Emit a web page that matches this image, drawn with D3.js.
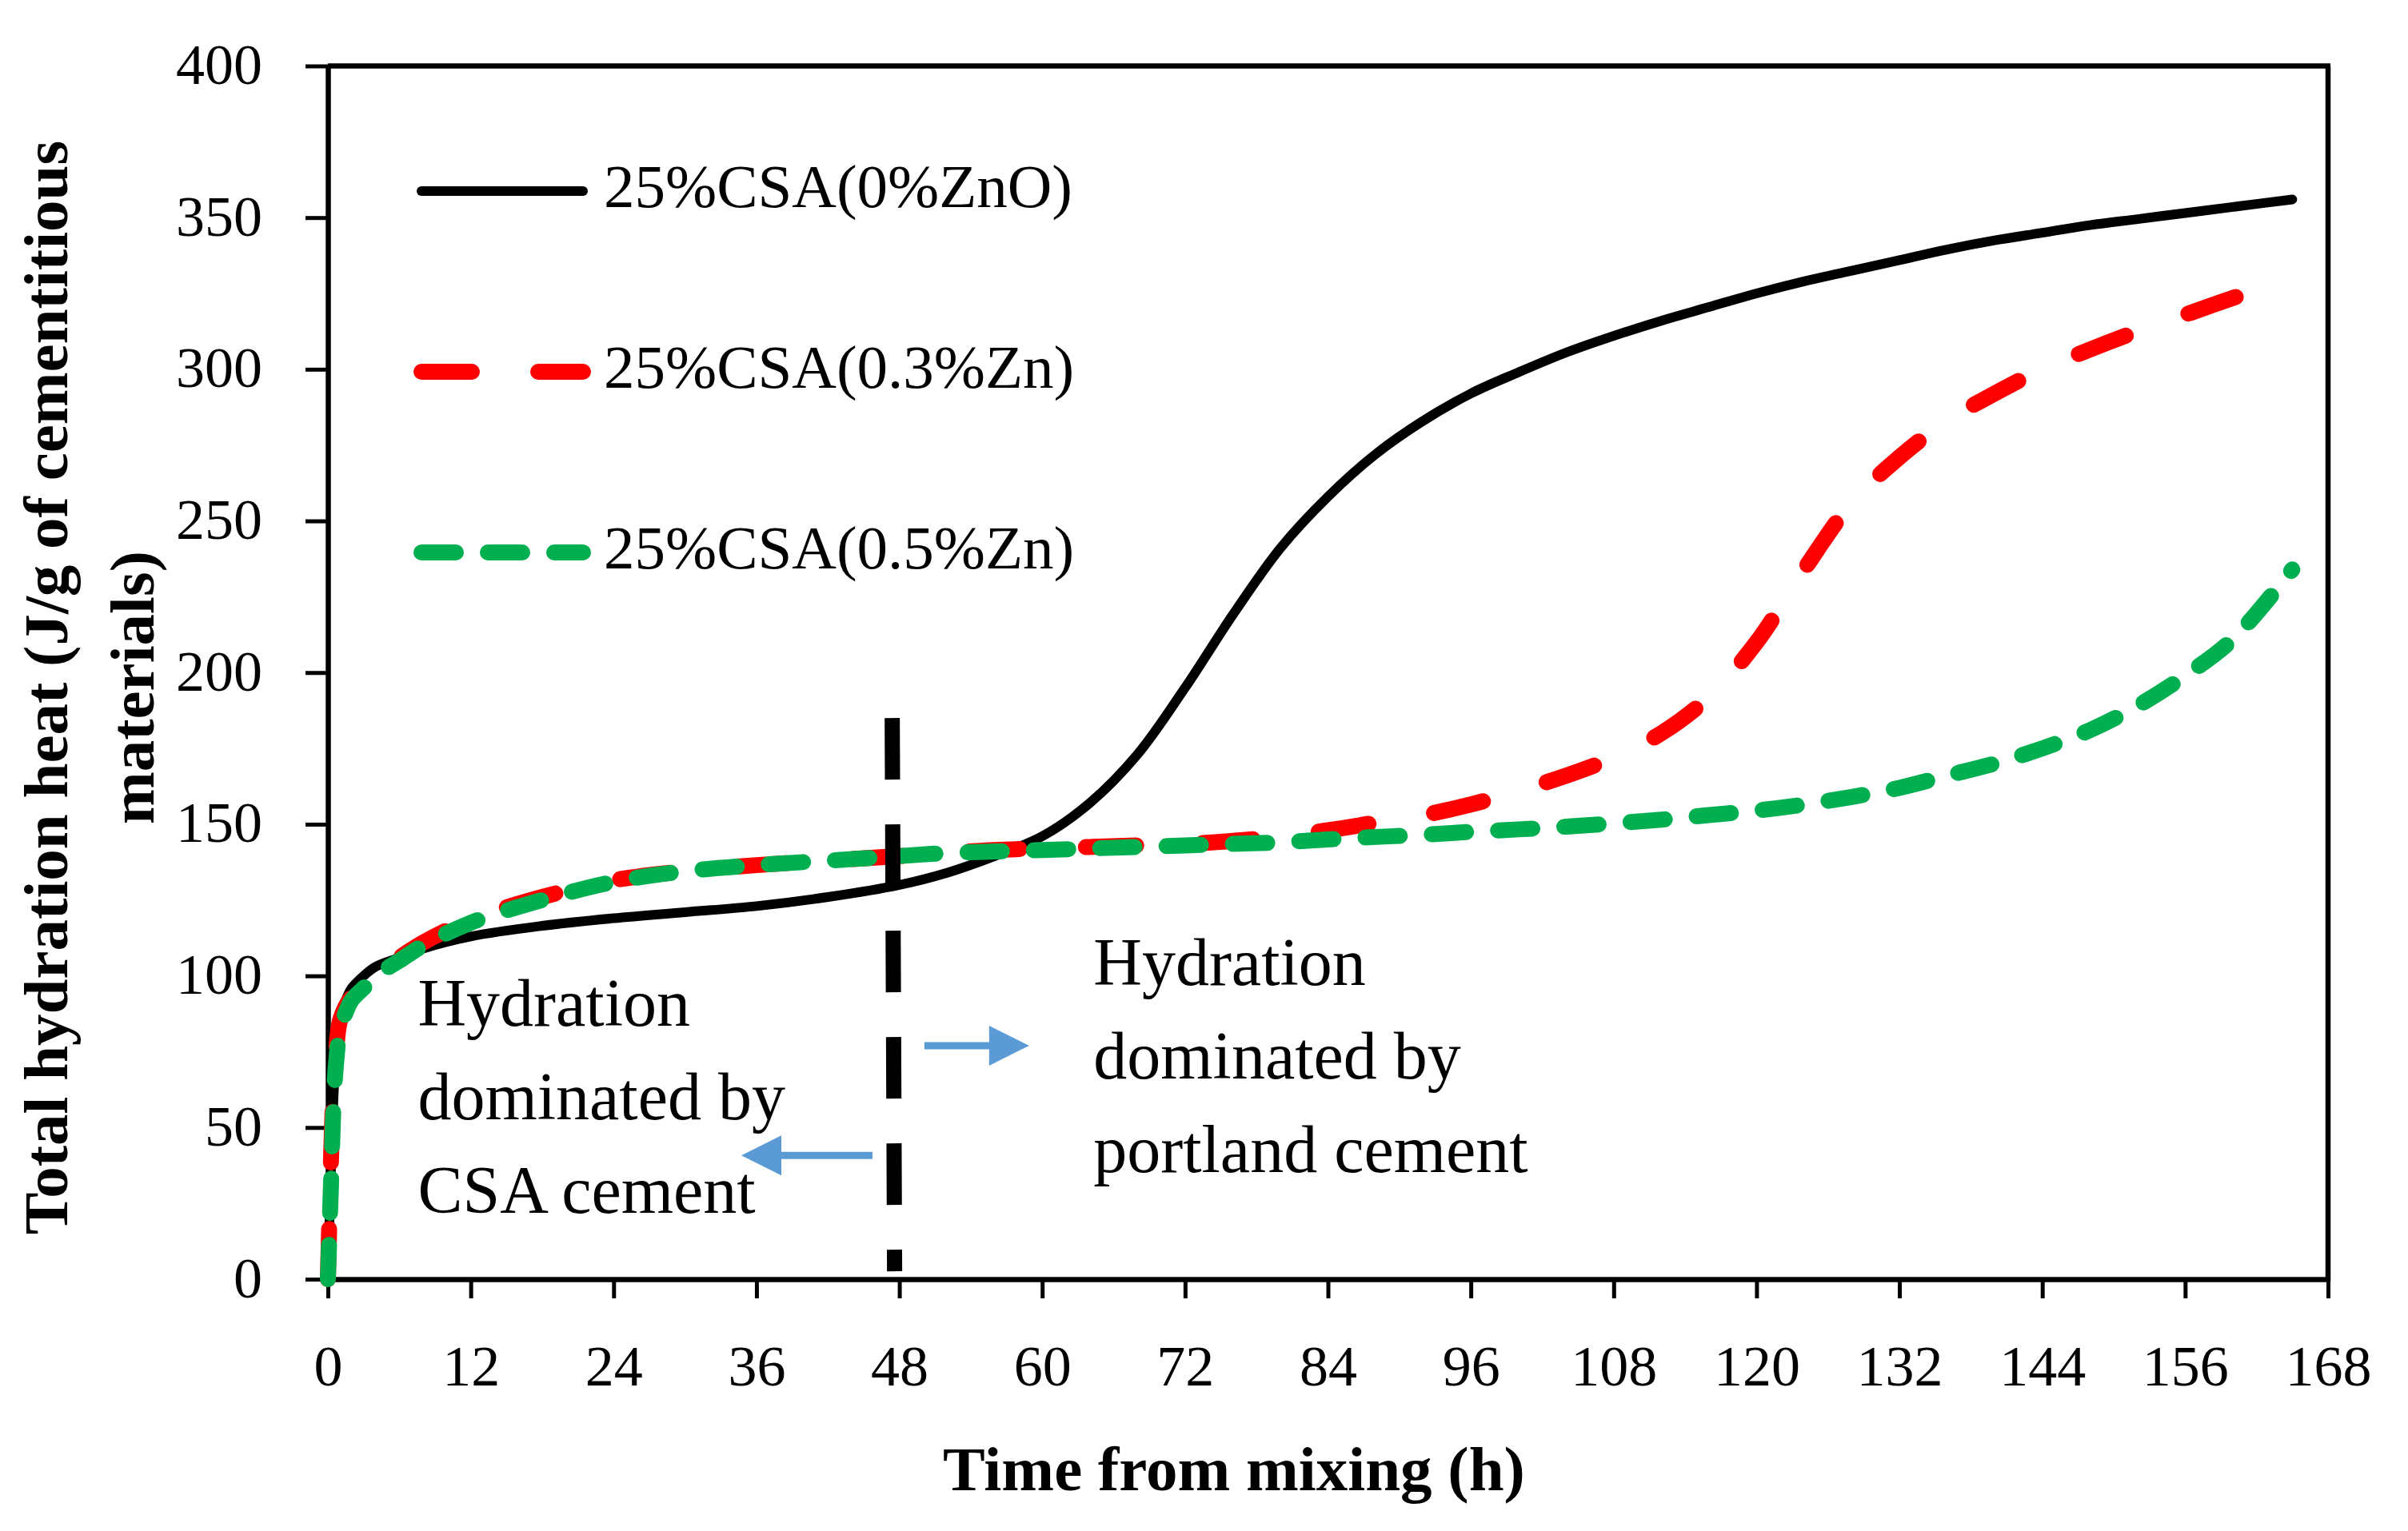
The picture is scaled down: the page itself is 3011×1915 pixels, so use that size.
<!DOCTYPE html>
<html>
<head>
<meta charset="utf-8">
<script src="https://cdn.jsdelivr.net/npm/d3@7"></script>
<style>
  html, body { margin: 0; padding: 0; background: #ffffff; }
  svg { display: block; }
  text { font-family: "Liberation Serif", "Times New Roman", serif; fill: #000; }
</style>
</head>
<body>
<script>
// ---------------- data ----------------
const timeH = [0, 0.25, 0.5, 0.75, 1, 1.5, 2, 3, 4, 6, 8, 12, 18, 24, 30, 36, 42, 48, 52, 56, 60, 64, 68, 72, 76, 80, 84, 88, 92, 96, 100, 104, 108, 112, 116, 120, 124, 128, 132, 136, 140, 144, 148, 152, 156, 160, 165];

const heat0ZnO = [0, 35, 62, 78, 86, 92, 96, 100, 103, 106, 109, 113, 116.5, 119, 121, 123, 126, 130, 134, 139.5, 146, 157, 173, 195, 219, 241, 258, 272, 283, 292, 299, 305.5, 311, 316, 320.5, 325, 329, 332.5, 336, 339.5, 342.5, 345, 347.5, 349.5, 351.5, 353.5, 356];

const heat03Zn = [0, 38, 65, 78, 85, 90, 93, 97, 101, 106, 111, 118.5, 126, 131.5, 134.5, 136.5, 138, 139.5, 140.5, 141.5, 142, 142.5, 143, 143.5, 144.5, 146, 148, 150.5, 153, 156.5, 161, 166, 172, 180, 192, 210, 234, 256, 271, 283, 292, 300, 306.5, 312.5, 318, 323.5, 330];

const heat05Zn = [0, 30, 60, 74, 82, 88, 92, 96, 100, 105, 110, 117.5, 125, 131, 134.5, 136.5, 138, 139.5, 140.5, 141, 141.5, 142, 142.5, 143, 143.5, 144, 145, 145.8, 146.5, 147.5, 148.3, 149.2, 150.3, 151.5, 153, 154.5, 156.5, 159, 162, 166, 170, 175, 181, 189, 199, 211, 234];

const seriesNames = ["25%CSA(0%ZnO)", "25%CSA(0.3%Zn)", "25%CSA(0.5%Zn)"];
const xTicks = [0, 12, 24, 36, 48, 60, 72, 84, 96, 108, 120, 132, 144, 156, 168];
const yTicks = [0, 50, 100, 150, 200, 250, 300, 350, 400];
const xTitle = "Time from mixing (h)";
const yTitleLines = ["Total hydration heat (J/g of cementitious", "materials)"];
const leftNote = ["Hydration", "dominated by", "CSA cement"];
const rightNote = ["Hydration", "dominated by", "portland cement"];
const dividerTime = 47.4;          // h, vertical dashed divider
const dividerRange = [2.6, 185];   // J/g extent of divider

// ---------------- layout ----------------
const W = 3011, H = 1915;
const L = 410, R = 2911, T = 82.5, B = 1600;

const svg = d3.select("body").append("svg")
  .attr("width", W).attr("height", H)
  .attr("viewBox", `0 0 ${W} ${H}`);

svg.append("rect").attr("width", W).attr("height", H).attr("fill", "#fff");

const x = d3.scaleLinear().domain([0, 168]).range([L, R]);
const y = d3.scaleLinear().domain([0, 400]).range([B, T]);

// ---------------- axes ----------------
const xAxis = svg.append("g")
  .attr("transform", `translate(0,${B})`)
  .call(d3.axisBottom(x).tickValues(xTicks).tickSize(24).tickSizeOuter(0).tickFormat(d3.format("d")));
xAxis.select(".domain").attr("stroke", "#000").attr("stroke-width", 6.5);
xAxis.selectAll(".tick line").attr("stroke", "#000").attr("stroke-width", 5);
xAxis.selectAll(".tick text")
  .attr("y", 133).attr("dy", null)
  .attr("font-size", 72)
  .attr("font-family", "Liberation Serif, serif")
  .attr("fill", "#000");

const yAxis = svg.append("g")
  .attr("transform", `translate(${L},0)`)
  .call(d3.axisLeft(y).tickValues(yTicks).tickSize(28).tickSizeOuter(0).tickFormat(d3.format("d")));
yAxis.select(".domain").attr("stroke", "#000").attr("stroke-width", 6.5);
yAxis.selectAll(".tick line").attr("stroke", "#000").attr("stroke-width", 5);
yAxis.selectAll(".tick text")
  .attr("x", -82).attr("dy", null).attr("y", 22)
  .attr("font-size", 72)
  .attr("font-family", "Liberation Serif, serif")
  .attr("fill", "#000");

// top and right frame
svg.append("line").attr("x1", L).attr("x2", R + 3).attr("y1", T).attr("y2", T)
  .attr("stroke", "#000").attr("stroke-width", 6.5);
svg.append("line").attr("x1", R).attr("x2", R).attr("y1", T).attr("y2", B + 3)
  .attr("stroke", "#000").attr("stroke-width", 6.5);

// ---------------- series ----------------
const line = d3.line()
  .x(d => x(d[0]))
  .y(d => y(d[1]))
  .curve(d3.curveCatmullRom.alpha(0.5));

const seriesData = [heat0ZnO, heat03Zn, heat05Zn].map(vals => timeH.map((t, i) => [t, vals[i]]));
const styles = [
  { color: "#000000", width: 12, dash: null },
  { color: "#FF0000", width: 20, dash: "63,83" },
  { color: "#00B050", width: 20, dash: "43,40" }
];

const plot = svg.append("g");
seriesData.forEach((d, i) => {
  const p = plot.append("path")
    .datum(d)
    .attr("d", line)
    .attr("fill", "none")
    .attr("stroke", styles[i].color)
    .attr("stroke-width", styles[i].width)
    .attr("stroke-linecap", "round")
    .attr("stroke-linejoin", "round");
  if (styles[i].dash) p.attr("stroke-dasharray", styles[i].dash);
});

// divider
svg.append("line")
  .attr("x1", x(dividerTime)).attr("x2", x(dividerTime + 0.2))
  .attr("y1", y(dividerRange[1])).attr("y2", y(dividerRange[0]))
  .attr("stroke", "#000").attr("stroke-width", 19)
  .attr("stroke-dasharray", "77,56");

// arrows
const arrowColor = "#5B9BD5";
function arrow(t0, t1, v) {
  const x0 = x(t0), x1 = x(t1), yy = y(v);
  const dir = Math.sign(x1 - x0);
  const headLen = 50, headHalf = 25;
  svg.append("line")
    .attr("x1", x0).attr("x2", x1 - dir * headLen + dir * 2)
    .attr("y1", yy).attr("y2", yy)
    .attr("stroke", arrowColor).attr("stroke-width", 9);
  svg.append("path")
    .attr("d", `M${x1},${yy} L${x1 - dir * headLen},${yy - headHalf} L${x1 - dir * headLen},${yy + headHalf} Z`)
    .attr("fill", arrowColor);
}
arrow(45.74, 34.73, 40.8);
arrow(50.1, 58.9, 77.0);

// annotations
const noteSize = 84;
const leftBaselines = [83.6, 52.7, 22.0];
leftNote.forEach((s, i) => {
  svg.append("text").attr("x", x(7.55)).attr("y", y(leftBaselines[i]))
    .attr("font-size", noteSize).text(s);
});
const rightBaselines = [97.0, 66.2, 35.3];
rightNote.forEach((s, i) => {
  svg.append("text").attr("x", x(64.3)).attr("y", y(rightBaselines[i]))
    .attr("font-size", noteSize).text(s);
});

// ---------------- legend ----------------
const legendY = [239, 465, 691];
const legend = svg.append("g");
seriesNames.forEach((name, i) => {
  const ln = legend.append("line")
    .attr("x1", 527).attr("x2", 729)
    .attr("y1", legendY[i]).attr("y2", legendY[i])
    .attr("stroke", styles[i].color)
    .attr("stroke-width", styles[i].width)
    .attr("stroke-linecap", "round");
  if (styles[i].dash) ln.attr("stroke-dasharray", styles[i].dash);
  legend.append("text")
    .attr("x", 755).attr("y", legendY[i] + 20)
    .attr("font-size", 77)
    .text(name);
});

// ---------------- axis titles ----------------
svg.append("text")
  .attr("x", 1543).attr("y", 1864)
  .attr("text-anchor", "middle")
  .attr("font-size", 79).attr("font-weight", "bold")
  .text(xTitle);

const yTitleBaselines = [84, 192];
yTitleLines.forEach((s, i) => {
  svg.append("text")
    .attr("transform", `translate(${yTitleBaselines[i]},860) rotate(-90)`)
    .attr("text-anchor", "middle")
    .attr("font-size", 79).attr("font-weight", "bold")
    .text(s);
});
</script>
</body>
</html>
